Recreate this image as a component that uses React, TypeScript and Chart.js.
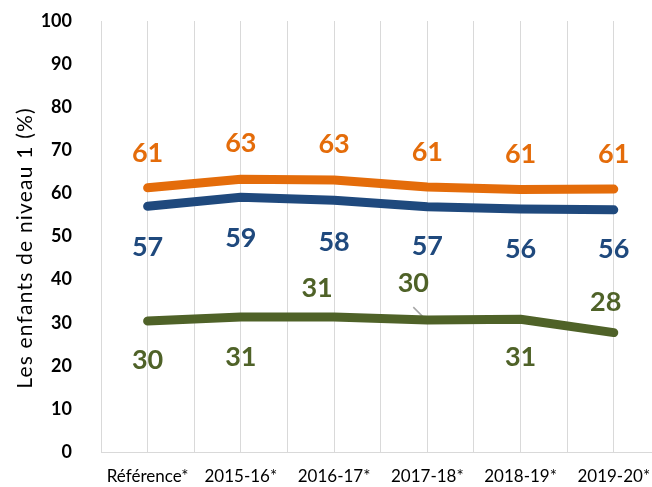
import React, { useEffect, useRef } from "react";
import { Chart, registerables } from "chart.js";

Chart.register(...registerables);

const categories = ["Référence*", "2015-16*", "2016-17*", "2017-18*", "2018-19*", "2019-20*"];
const orangeValues = [61.3, 63.3, 63.1, 61.5, 60.9, 61.0];
const blueValues = [57.0, 59.1, 58.4, 56.9, 56.4, 56.2];
const greenValues = [30.4, 31.3, 31.3, 30.6, 30.8, 27.7];
const orangeLabels = ["61", "63", "63", "61", "61", "61"];
const blueLabels = ["57", "59", "58", "57", "56", "56"];
const greenLabels = ["30", "31", "31", "30", "31", "28"];
const yTickValues = [0, 10, 20, 30, 40, 50, 60, 70, 80, 90, 100];
const yTitle = "Les enfants de niveau 1 (%)";

// label placement (style only)
const orangeOffsets = [[0, -35], [0, -36], [0, -36], [0, -35], [0, -35], [0, -35]];
const blueOffsets = [[0, 41], [0, 41], [0, 42], [0, 40], [0, 40], [0, 40]];
const greenOffsets = [[0, 39], [0, 40], [-17, -29], [-14, -37], [0, 38], [-8, -30]];
const greenLeader = [false, false, false, true, false, false];

const ORANGE = "#E46C0A";
const BLUE = "#1F497D";
const GREEN = "#4F6228";
const GRID = "#D9D9D9";
const FONT = "Lato, 'Open Sans', sans-serif";

const labelPlugin = {
  id: "valueLabels",
  beforeDatasetsDraw(chart: any) {
    const ctx = chart.ctx;
    const meta = chart.getDatasetMeta(2);
    ctx.save();
    ctx.strokeStyle = "#A6A6A6";
    ctx.lineWidth = 1.5;
    meta.data.forEach((pt: any, i: number) => {
      if (!greenLeader[i]) return;
      const [dx, dy] = greenOffsets[i];
      ctx.beginPath();
      ctx.moveTo(pt.x + dx, pt.y + dy + 24);
      ctx.lineTo(pt.x - 1, pt.y);
      ctx.stroke();
    });
    ctx.restore();
  },
  afterDatasetsDraw(chart: any) {
    const ctx = chart.ctx;
    const sets = [
      { labels: orangeLabels, offs: orangeOffsets, color: ORANGE },
      { labels: blueLabels, offs: blueOffsets, color: BLUE },
      { labels: greenLabels, offs: greenOffsets, color: GREEN },
    ];
    ctx.save();
    ctx.font = `bold 27px ${FONT}`;
    ctx.textAlign = "center";
    ctx.textBaseline = "middle";
    sets.forEach((s, di) => {
      const meta = chart.getDatasetMeta(di);
      meta.data.forEach((pt: any, i: number) => {
        ctx.fillStyle = s.color;
        ctx.fillText(s.labels[i], pt.x + s.offs[i][0], pt.y + s.offs[i][1]);
      });
    });
    // y axis title
    ctx.translate(25, 248);
    ctx.rotate(-Math.PI / 2);
    ctx.font = `21px ${FONT}`;
    try {
      (ctx as any).letterSpacing = "1.2px";
    } catch (e) {}
    ctx.fillStyle = "#000";
    ctx.fillText(yTitle, 0, 0);
    ctx.restore();
  },
};

export default function App() {
  const ref = useRef<HTMLCanvasElement | null>(null);
  useEffect(() => {
    if (!ref.current) return;
    const mk = (vals: number[]) => vals.map((v, i) => ({ x: i, y: v }));
    const lineStyle = {
      borderWidth: 9,
      pointRadius: 0,
      borderCapStyle: "round" as const,
      borderJoinStyle: "round" as const,
      tension: 0,
      fill: false,
    };
    const chart = new Chart(ref.current, {
      type: "line",
      data: {
        datasets: [
          { data: mk(orangeValues), borderColor: ORANGE, ...lineStyle },
          { data: mk(blueValues), borderColor: BLUE, ...lineStyle },
          { data: mk(greenValues), borderColor: GREEN, ...lineStyle },
        ],
      },
      options: {
        animation: false,
        responsive: false,
        devicePixelRatio: 1,
        layout: { padding: { top: 21, right: 0, bottom: 0, left: 0 } },
        plugins: { legend: { display: false }, tooltip: { enabled: false } },
        scales: {
          x: {
            type: "linear",
            min: -0.5,
            max: 5.41,
            afterBuildTicks: (axis: any) => {
              const t = [];
              for (let k = -1; k <= categories.length * 2 - 2; k++) t.push({ value: k * 0.5 });
              axis.ticks = t;
            },
            afterFit: (axis: any) => {
              axis.height = 35;
              axis.paddingLeft = 0;
              axis.paddingRight = 0;
            },
            grid: { color: GRID, lineWidth: 1, drawTicks: false },
            border: { display: true, color: GRID },
            ticks: {
              autoSkip: false,
              maxRotation: 0,
              padding: 14,
              color: "#000",
              font: { family: FONT, size: 17 },
              callback: (v: any) => (Number.isInteger(v) && v >= 0 ? categories[v] : ""),
            },
          },
          y: {
            min: 0,
            max: 100,
            afterBuildTicks: (axis: any) => {
              axis.ticks = yTickValues.map((v) => ({ value: v }));
            },
            afterFit: (axis: any) => {
              axis.width = 101;
              axis.paddingTop = 0;
              axis.paddingBottom = 0;
            },
            grid: { display: false, drawTicks: false },
            border: { display: true, color: GRID },
            ticks: {
              padding: 29,
              color: "#000",
              font: { family: FONT, size: 18, weight: "bold" },
            },
          },
        },
      },
      plugins: [labelPlugin],
    });
    return () => chart.destroy();
  }, []);
  return (
    <div style={{ position: "absolute", left: 0, top: 0, width: 652, height: 487, background: "#fff" }}>
      <canvas ref={ref} width={652} height={487} style={{ width: 652, height: 487 }} />
    </div>
  );
}
